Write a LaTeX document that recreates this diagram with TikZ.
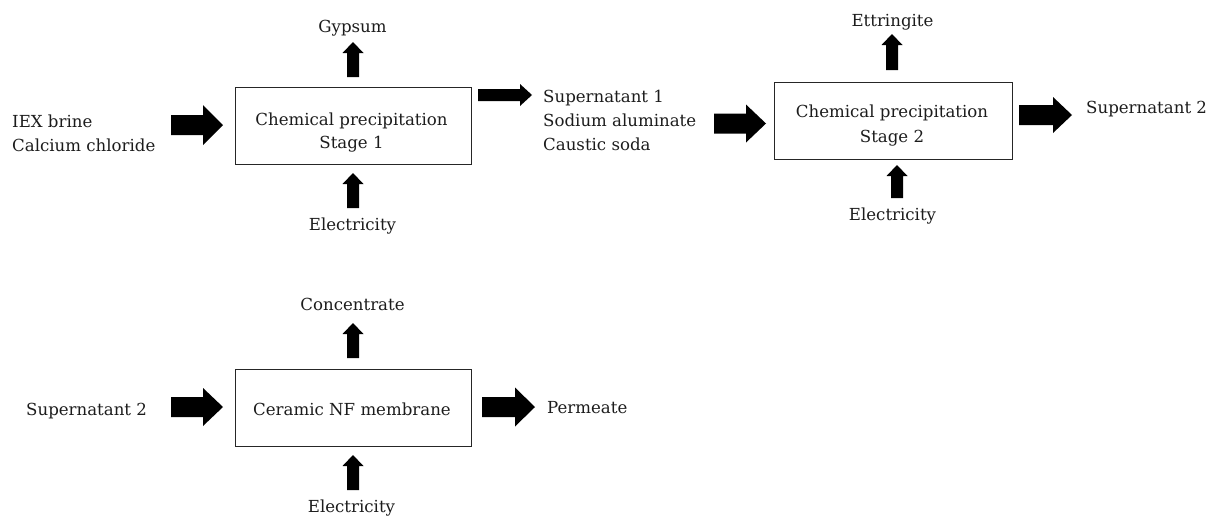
\documentclass[tikz,border=0pt]{standalone}
\usepackage{fontspec}
\setmainfont{DejaVu Serif}
\usetikzlibrary{calc}
\definecolor{txt}{HTML}{1C1C1C}
\tikzset{
  lbl/.style={inner sep=0pt, text=txt, font=\fontsize{16.6}{24}\selectfont},
  boxnode/.style={draw=black!85, line width=0.9pt, minimum height=77pt, inner sep=0pt},
}
% horizontal fat arrow: start, tip, half shaft, half head, head length
\newcommand\harrow[5]{\fill ($(#1)+(0,#3)$) -- ($(#2)+(-#5,#3)$) -- ($(#2)+(-#5,#4)$) -- (#2) -- ($(#2)+(-#5,-#4)$) -- ($(#2)+(-#5,-#3)$) -- ($(#1)+(0,-#3)$) -- cycle;}
% vertical (upward) fat arrow: start (bottom), tip, half shaft, half head, head length
\newcommand\varrow[5]{\fill ($(#1)+(#3,0)$) -- ($(#2)+(#3,#5)$) -- ($(#2)+(#4,#5)$) -- (#2) -- ($(#2)+(-#4,#5)$) -- ($(#2)+(-#3,#5)$) -- ($(#1)+(-#3,0)$) -- cycle;}
\begin{document}
\begin{tikzpicture}[x=1pt,y=-1pt]
\useasboundingbox (0,0) rectangle (1215,515);

% ---------- Stage 1 ----------
\node[boxnode, minimum width=236pt] (b1) at (353,125.5) {};
\node[lbl, anchor=base] (b1a) at (351.5,125) {Chemical precipitation};
\node[lbl, anchor=base] (b1b) at (351.5,148) {Stage 1};

\node[lbl, anchor=base west] (in1a) at (12,127) {IEX brine};
\node[lbl, anchor=base west] (in1b) at (12,151) {Calcium chloride};
\coordinate (a1s) at (171,125); \coordinate (a1e) at (223,125);
\harrow{a1s}{a1e}{10}{20}{20}

\node[lbl, anchor=base] (gyp) at (352.5,32) {Gypsum};
\coordinate (g1s) at (353,77); \coordinate (g1e) at (353,42);
\varrow{g1s}{g1e}{6}{10.5}{11}

\node[lbl, anchor=base] (el1) at (352.5,230) {Electricity};
\coordinate (e1s) at (353,208); \coordinate (e1e) at (353,173);
\varrow{e1s}{e1e}{6}{10.5}{11}

\coordinate (s1s) at (478,95); \coordinate (s1e) at (532,95);
\harrow{s1s}{s1e}{6}{11}{12}

\node[lbl, anchor=base west] (in2a) at (543,102) {Supernatant 1};
\node[lbl, anchor=base west] (in2b) at (543,126) {Sodium aluminate};
\node[lbl, anchor=base west] (in2c) at (543,150) {Caustic soda};

% ---------- Stage 2 ----------
\coordinate (a2s) at (714,123.5); \coordinate (a2e) at (766,123.5);
\harrow{a2s}{a2e}{10}{19}{20}

\node[boxnode, minimum width=238pt] (b2) at (893,120.5) {};
\node[lbl, anchor=base] (b2a) at (892,117) {Chemical precipitation};
\node[lbl, anchor=base] (b2b) at (892,142) {Stage 2};

\node[lbl, anchor=base] (ett) at (892.5,26) {Ettringite};
\coordinate (g2s) at (892,70); \coordinate (g2e) at (892,34);
\varrow{g2s}{g2e}{6}{10.5}{11}

\node[lbl, anchor=base] (el2) at (892.5,220) {Electricity};
\coordinate (e2s) at (897,198); \coordinate (e2e) at (897,165);
\varrow{e2s}{e2e}{6}{10.5}{11}

\coordinate (a3s) at (1019,115); \coordinate (a3e) at (1072,115);
\harrow{a3s}{a3e}{10}{18}{19}
\node[lbl, anchor=base west] (sup2) at (1086,113) {Supernatant 2};

% ---------- NF membrane ----------
\node[lbl, anchor=base west] (in3) at (26,415) {Supernatant 2};
\coordinate (a4s) at (171,407); \coordinate (a4e) at (223,407);
\harrow{a4s}{a4e}{10}{19}{20}

\node[boxnode, minimum width=236pt] (b3) at (353,407.5) {};
\node[lbl, anchor=base] (b3a) at (352,415) {Ceramic NF membrane};

\node[lbl, anchor=base] (conc) at (352.5,310) {Concentrate};
\coordinate (g3s) at (353,358); \coordinate (g3e) at (353,323);
\varrow{g3s}{g3e}{6}{10.5}{11}

\node[lbl, anchor=base] (el3) at (351.5,512) {Electricity};
\coordinate (e3s) at (353,490); \coordinate (e3e) at (353,455);
\varrow{e3s}{e3e}{6}{10.5}{11}

\coordinate (a5s) at (482,407); \coordinate (a5e) at (535,407);
\harrow{a5s}{a5e}{10}{19.5}{20}
\node[lbl, anchor=base west] (perm) at (547,413) {Permeate};
\end{tikzpicture}
\end{document}
